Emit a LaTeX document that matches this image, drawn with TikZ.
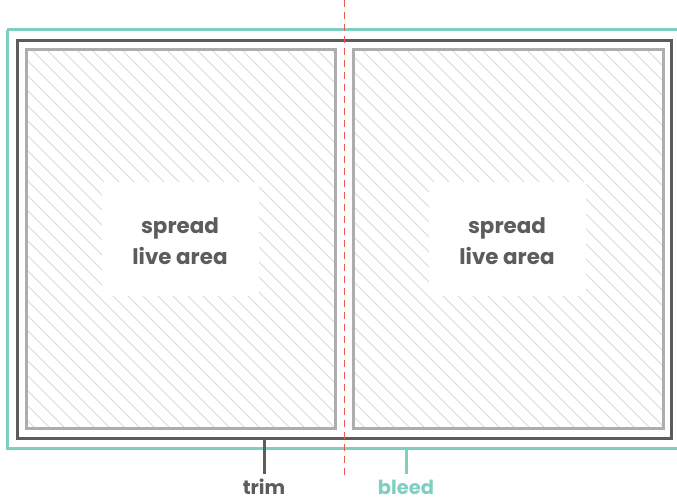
\documentclass[tikz,border=0pt]{standalone}
\usepackage{fontspec}
\setmainfont{Poppins}
\usetikzlibrary{positioning}
\definecolor{bleedgreen}{HTML}{7ECFBF}
\definecolor{trimgray}{HTML}{5C5C5C}
\definecolor{livegray}{HTML}{ADADAD}
\definecolor{hatchgray}{HTML}{D9D9D9}
\definecolor{foldred}{HTML}{EC5A4C}

\begin{document}
\begin{tikzpicture}[x=1bp, y=-1bp]
    \tikzset{
        hatch/.style = {draw=hatchgray, line width=0.9bp},
        liveframe/.style = {draw=livegray, line width=3bp},
        trimframe/.style = {draw=trimgray, line width=3bp},
        bleedframe/.style = {draw=bleedgreen, line width=3bp},
        fold/.style = {draw=foldred, line width=1bp, dash pattern=on 7bp off 5bp},
        clearbox/.style = {fill=white, draw=none},
        livetext/.style = {text=trimgray, align=center, font=\fontsize{21.5}{31}\selectfont\bfseries},
        tagtext/.style = {anchor=base, font=\fontsize{19.5}{22}\selectfont\bfseries}
    }
    \useasboundingbox (0,0) rectangle (677,500);

    % hatching of both pages
    \foreach \l/\r in {26/335, 353/663} {
        \begin{scope}
            \clip (\l,50) rectangle (\r,428);
            \foreach \c in {-408,-393,...,662}
                \draw [hatch] (\c,0) -- ++(500,500);
        \end{scope}
    }

    % live area boxes
    \fill [clearbox] (102,182) rectangle (259,296);
    \fill [clearbox] (429,182) rectangle (586,296);
    \node [livetext] (leftlive) at (180,241) {spread\\live area};
    \node [livetext] (rightlive) at (507,241) {spread\\live area};

    % page frames
    \draw [liveframe] (26,50) rectangle (335,428);
    \draw [liveframe] (353,50) rectangle (663,428);

    % trim and bleed
    \draw [trimframe] (17,41) rectangle (671,438);
    \draw [bleedframe] (7,30) -- (690,30);
    \draw [bleedframe] (7,30) -- (7,448) -- (690,448);

    % fold line
    \coordinate (foldtop) at (344,0);
    \coordinate (foldbot) at (344,480);
    \draw [fold] (foldtop) -- (foldbot);

    % labels
    \node [tagtext, text=trimgray] (trimlbl) at (264,494) {trim};
    \node [tagtext, text=bleedgreen] (bleedlbl) at (406,494) {bleed};
    \coordinate (trimtick) at (264,438);
    \coordinate (trimend) at (264,474);
    \coordinate (bleedtick) at (406,448);
    \coordinate (bleedend) at (406,474);
    \draw [trimgray, line width=3bp] (trimtick) -- (trimend);
    \draw [bleedgreen, line width=3bp] (bleedtick) -- (bleedend);
\end{tikzpicture}
\end{document}
